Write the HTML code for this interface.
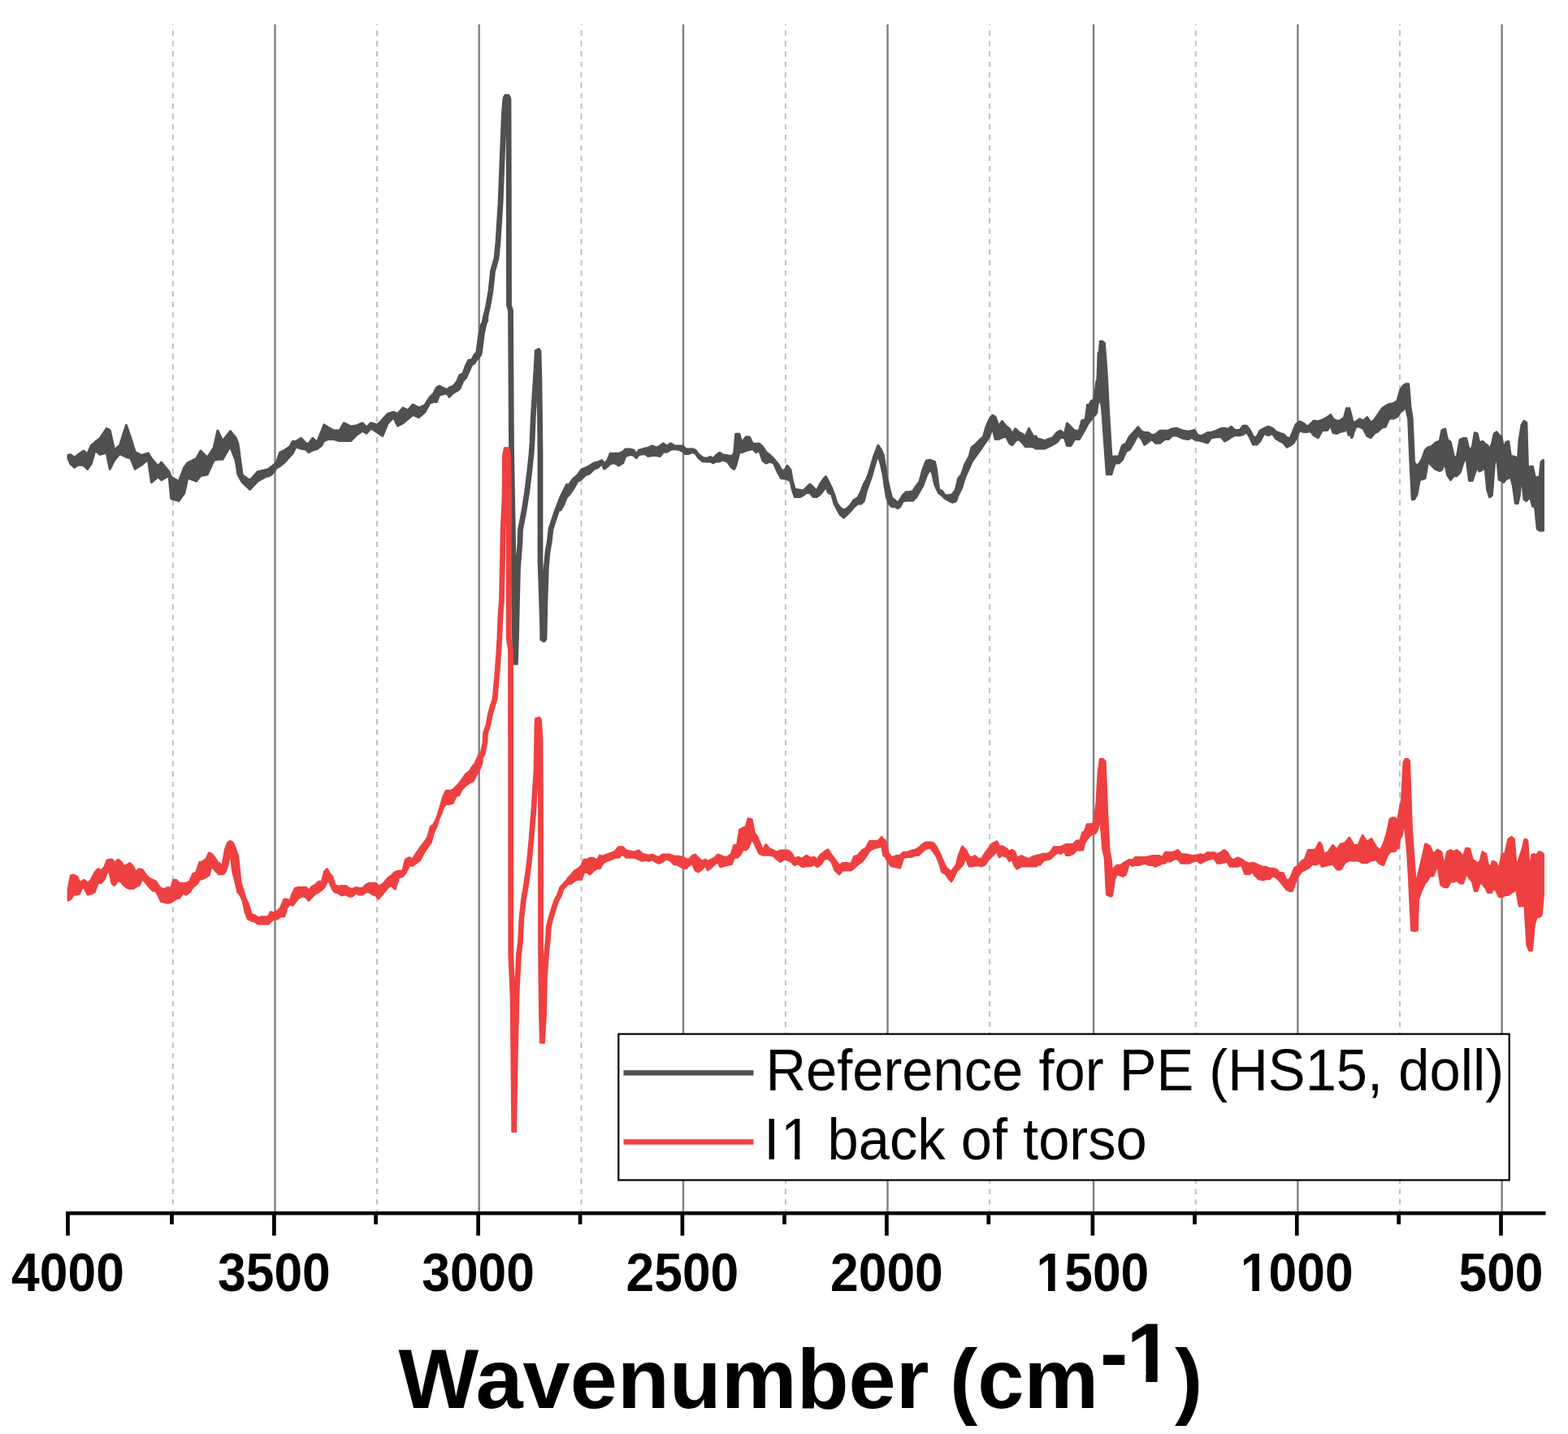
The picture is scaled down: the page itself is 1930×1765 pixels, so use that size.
<!DOCTYPE html><html><head><meta charset="utf-8"><style>html,body{margin:0;padding:0;background:#fff;}svg{display:block;}</style></head><body>
<svg width="1930" height="1765" viewBox="0 0 1930 1765">
<rect width="1930" height="1765" fill="#fff"/>
<line x1="212.8" y1="30.0" x2="212.8" y2="1491.0" stroke="#c0c0c0" stroke-width="2" stroke-dasharray="6.6 6.245" stroke-dashoffset="5.5"/>
<line x1="464.0" y1="30.0" x2="464.0" y2="1491.0" stroke="#c0c0c0" stroke-width="2" stroke-dasharray="6.6 6.245" stroke-dashoffset="5.5"/>
<line x1="715.5" y1="30.0" x2="715.5" y2="1491.0" stroke="#c0c0c0" stroke-width="2" stroke-dasharray="6.6 6.245" stroke-dashoffset="5.5"/>
<line x1="966.9" y1="30.0" x2="966.9" y2="1491.0" stroke="#c0c0c0" stroke-width="2" stroke-dasharray="6.6 6.245" stroke-dashoffset="5.5"/>
<line x1="1218.1" y1="30.0" x2="1218.1" y2="1491.0" stroke="#c0c0c0" stroke-width="2" stroke-dasharray="6.6 6.245" stroke-dashoffset="5.5"/>
<line x1="1471.8" y1="30.0" x2="1471.8" y2="1491.0" stroke="#c0c0c0" stroke-width="2" stroke-dasharray="6.6 6.245" stroke-dashoffset="5.5"/>
<line x1="1723.0" y1="30.0" x2="1723.0" y2="1491.0" stroke="#c0c0c0" stroke-width="2" stroke-dasharray="6.6 6.245" stroke-dashoffset="5.5"/>
<line x1="338.5" y1="30.0" x2="338.5" y2="1493.3" stroke="#808080" stroke-width="2.4"/>
<line x1="589.7" y1="30.0" x2="589.7" y2="1493.3" stroke="#808080" stroke-width="2.4"/>
<line x1="841.0" y1="30.0" x2="841.0" y2="1493.3" stroke="#808080" stroke-width="2.4"/>
<line x1="1092.5" y1="30.0" x2="1092.5" y2="1493.3" stroke="#808080" stroke-width="2.4"/>
<line x1="1346.0" y1="30.0" x2="1346.0" y2="1493.3" stroke="#808080" stroke-width="2.4"/>
<line x1="1597.4" y1="30.0" x2="1597.4" y2="1493.3" stroke="#808080" stroke-width="2.4"/>
<line x1="1848.6" y1="30.0" x2="1848.6" y2="1493.3" stroke="#808080" stroke-width="2.4"/>
<polygon points="84.0,560.3 86.7,559.8 91.5,563.2 96.2,559.8 102.9,555.1 107.6,559.1 112.3,548.4 117.0,544.3 123.1,539.6 131.2,527.5 135.2,529.5 140.6,553.7 147.4,548.4 155.4,523.4 160.8,538.9 166.2,556.4 174.3,560.5 182.4,557.8 186.4,564.5 194.5,574.0 198.6,569.2 208.0,580.7 210.7,587.4 220.1,592.8 226.8,575.3 230.9,569.9 241.7,564.5 247.0,555.1 255.1,563.2 263.2,551.1 267.9,530.2 274.0,543.0 283.4,530.8 290.2,538.9 292.9,545.7 298.2,584.7 307.7,591.5 317.1,580.7 329.2,578.0 330.0,577.8 334.1,574.7 340.4,569.5 344.5,557.1 350.7,554.0 356.9,549.8 360.1,543.6 364.2,543.6 370.4,539.4 376.6,545.7 379.7,546.7 384.9,539.4 390.1,544.6 395.3,532.2 398.9,522.9 403.6,526.0 410.8,530.1 418.1,530.1 423.3,520.8 431.6,524.9 438.8,523.9 446.1,520.8 451.2,526.0 456.4,520.8 464.7,522.9 470.9,516.6 477.2,509.4 484.4,507.3 489.6,509.4 495.8,502.1 502.0,505.2 508.2,498.0 515.5,502.1 522.7,499.0 529.1,489.1 533.8,484.3 537.2,477.5 540.6,475.2 545.4,477.5 550.2,479.6 552.9,477.5 557.6,475.5 562.4,470.1 565.8,461.9 569.9,459.9 573.3,450.3 576.7,443.5 580.7,442.9 584.1,436.7 586.9,434.0 589.6,413.6 592.3,400.0 595.0,396.0 597.1,385.8 599.8,381.0 599.8,394.6 597.1,399.4 595.0,413.0 592.3,434.1 589.6,440.2 586.9,442.2 584.1,447.0 580.7,449.0 576.7,457.9 573.3,465.3 569.9,468.7 565.8,478.3 562.4,481.0 557.6,483.7 552.9,488.4 550.2,483.7 545.4,485.1 540.6,486.4 537.2,494.6 533.8,494.6 529.1,495.9 522.7,507.4 515.5,513.6 508.2,510.5 502.0,515.7 495.8,520.9 489.6,524.0 484.4,513.6 477.2,520.9 470.9,536.4 464.7,532.3 456.4,527.1 451.2,533.3 446.1,530.2 438.8,535.4 431.6,542.6 423.3,542.6 418.1,542.6 410.8,540.6 403.6,540.6 398.9,542.6 395.3,548.8 390.1,552.5 384.9,554.0 379.7,556.6 376.6,553.0 370.4,552.0 364.2,549.9 360.1,558.2 356.9,561.3 350.7,568.5 344.5,573.7 340.4,575.8 334.1,584.1 330.0,586.2 329.2,585.4 317.1,592.2 307.7,602.3 298.2,593.5 292.9,584.1 290.2,566.6 283.4,549.1 274.0,565.2 267.9,565.2 263.2,566.6 255.1,584.1 247.0,585.4 241.7,592.2 230.9,588.1 226.8,607.0 220.1,616.4 210.7,613.7 208.0,585.4 198.6,590.8 194.5,586.8 186.4,593.5 182.4,565.2 174.3,572.0 166.2,577.3 160.8,563.9 155.4,562.5 147.4,558.5 140.6,566.6 135.2,577.3 131.2,557.1 123.1,559.2 117.0,554.4 112.3,570.6 107.6,577.3 102.9,572.6 96.2,572.0 91.5,575.3 86.7,570.6 84.0,564.1" fill="#505050" stroke="#505050" stroke-width="3" stroke-linejoin="round"/>
<polygon points="690.0,613.2 693.1,611.2 697.3,607.0 700.4,596.6 705.5,589.4 710.7,585.2 715.9,578.0 721.1,575.9 725.2,573.8 731.5,569.7 736.6,568.7 740.8,566.6 743.9,570.7 748.0,566.6 751.1,558.3 756.3,558.3 761.5,558.3 766.7,556.2 769.8,553.1 776.0,553.1 780.2,554.2 783.3,559.3 786.4,554.2 793.6,552.1 797.8,551.1 803.0,549.0 808.1,551.1 812.3,549.0 816.4,545.9 820.6,549.0 825.8,545.9 829.9,548.7 835.1,549.0 840.3,549.0 843.4,552.1 847.5,553.1 851.7,552.8 855.8,553.9 859.9,559.3 865.1,563.5 870.3,564.2 874.5,562.5 877.6,564.5 881.7,560.4 885.0,557.6 885.9,557.3 889.1,559.7 895.4,560.7 900.5,561.8 903.7,557.6 905.7,534.3 909.9,534.3 913.0,545.2 918.2,537.9 922.3,537.9 926.5,546.2 930.6,546.2 934.7,546.2 938.9,550.4 943.0,556.6 947.2,559.7 952.4,564.9 957.5,571.1 961.7,578.4 965.8,579.4 968.9,573.2 973.1,578.4 975.2,591.8 978.3,602.2 984.5,603.2 988.6,604.3 992.8,600.1 996.9,596.0 1001.1,600.1 1005.2,604.3 1009.4,596.0 1013.5,589.8 1016.6,586.6 1019.7,592.9 1023.9,601.2 1027.0,609.4 1030.1,619.8 1034.2,625.0 1038.4,628.1 1042.5,626.0 1046.7,621.9 1050.8,615.7 1056.0,612.6 1060.1,604.3 1063.2,596.0 1066.3,590.8 1069.5,582.5 1072.6,572.1 1075.7,561.8 1078.8,553.5 1080.9,548.3 1084.1,552.8 1087.3,560.1 1089.3,572.5 1091.4,587.0 1094.5,600.5 1097.6,612.9 1101.8,616.0 1104.9,619.1 1108.0,615.0 1111.1,609.8 1115.2,605.7 1119.4,605.7 1123.5,604.6 1127.7,598.4 1131.8,593.2 1136.0,577.7 1140.1,567.3 1144.2,566.3 1147.4,567.3 1150.5,568.4 1152.5,577.7 1155.6,602.6 1159.8,604.6 1162.9,609.5 1168.1,609.8 1172.2,608.8 1176.4,602.6 1179.5,589.1 1183.6,583.9 1187.8,571.5 1193.0,562.1 1196.1,550.7 1201.2,546.6 1206.4,541.4 1210.6,537.3 1213.7,525.9 1217.8,516.5 1221.5,511.4 1225.1,513.4 1229.2,524.8 1233.4,518.6 1238.5,524.8 1242.7,527.9 1245.8,534.2 1249.9,527.9 1254.1,532.1 1258.2,534.2 1262.4,537.3 1266.5,527.4 1271.7,537.3 1275.0,537.0 1276.9,540.4 1279.5,540.4 1286.3,542.6 1290.9,540.4 1295.4,539.2 1301.1,532.4 1305.6,530.2 1310.1,534.6 1313.5,521.1 1318.1,525.6 1322.6,530.2 1328.3,530.2 1331.7,517.7 1336.2,516.6 1338.5,498.5 1340.7,498.5 1343.0,493.9 1345.3,492.8 1347.5,489.4 1349.8,469.0 1350.9,467.9 1352.1,433.9 1353.2,433.9 1354.3,420.3 1356.6,420.3 1359.4,422.5 1362.3,461.1 1364.5,505.2 1366.8,543.8 1368.1,564.2 1370.2,561.9 1372.5,561.9 1377.0,561.9 1381.5,548.3 1386.0,546.0 1390.6,537.0 1395.1,532.4 1400.8,525.6 1405.3,531.3 1408.7,532.4 1413.2,532.4 1417.8,535.8 1422.3,534.7 1428.0,530.2 1433.6,530.2 1438.2,530.2 1442.7,527.9 1448.4,527.3 1456.3,530.2 1462.0,531.3 1467.6,530.2 1470.0,529.4 1474.1,535.6 1479.3,536.6 1486.6,532.5 1490.7,532.5 1496.9,530.4 1503.2,527.3 1507.3,527.3 1511.5,528.4 1515.6,525.2 1519.7,529.4 1526.0,529.4 1530.1,524.2 1534.2,524.2 1538.4,529.4 1542.5,537.7 1546.7,538.7 1550.8,530.4 1556.0,527.3 1561.2,525.2 1566.4,527.3 1570.5,531.5 1575.7,533.5 1579.8,534.6 1584.0,538.7 1588.1,539.8 1592.3,529.4 1595.4,522.1 1599.5,519.0 1604.7,521.1 1608.9,525.2 1613.0,522.1 1617.2,518.0 1622.3,519.0 1627.5,517.0 1633.7,513.8 1637.9,510.7 1641.0,515.9 1645.1,518.0 1649.3,518.0 1654.5,513.8 1657.6,502.5 1660.0,504.5 1660.7,502.5 1663.8,513.8 1664.5,518.1 1666.9,520.1 1669.1,519.2 1673.6,515.8 1678.1,518.1 1682.7,513.5 1687.2,520.3 1691.7,516.9 1696.3,510.1 1700.8,503.3 1705.3,499.9 1709.9,497.7 1715.5,496.5 1720.1,493.1 1723.5,480.7 1726.9,475.0 1730.3,472.7 1733.7,472.7 1735.9,499.9 1738.2,515.8 1740.5,569.0 1743.9,573.6 1747.3,570.2 1750.7,564.5 1754.1,554.3 1757.5,550.9 1762.0,549.8 1766.5,545.2 1772.2,543.0 1774.8,529.9 1775.6,529.4 1778.7,528.0 1781.6,541.4 1785.4,544.3 1789.3,561.7 1793.1,563.6 1797.0,541.4 1800.8,539.5 1804.7,539.5 1808.5,554.9 1812.4,550.1 1815.3,532.8 1818.1,533.7 1821.0,545.3 1824.9,543.4 1827.8,546.3 1830.7,548.2 1833.5,553.0 1836.4,546.3 1839.3,533.7 1842.2,531.8 1845.1,535.7 1848.0,537.6 1850.9,553.0 1853.8,544.3 1856.7,543.4 1859.5,561.7 1862.4,561.7 1865.3,562.6 1868.2,568.4 1870.1,541.4 1873.0,523.1 1875.9,518.3 1878.8,520.3 1880.7,581.9 1883.6,574.2 1886.5,574.2 1889.4,587.7 1892.3,587.7 1895.2,586.7 1897.1,568.4 1899.5,566.5 1899.5,653.1 1897.1,653.1 1895.2,653.1 1892.3,651.1 1889.4,623.2 1886.5,623.2 1883.6,611.7 1880.7,614.5 1878.8,616.5 1875.9,614.5 1873.0,582.8 1870.1,610.7 1868.2,619.4 1865.3,619.4 1862.4,598.2 1859.5,586.6 1856.7,588.5 1853.8,589.5 1850.9,593.4 1848.0,591.4 1845.1,590.5 1842.2,556.8 1839.3,572.2 1836.4,609.7 1833.5,611.7 1830.7,603.0 1827.8,573.1 1824.9,578.0 1821.0,579.9 1818.1,575.1 1815.3,581.8 1812.4,591.4 1808.5,591.4 1804.7,561.6 1800.8,570.2 1797.0,581.8 1793.1,585.7 1789.3,585.7 1785.4,590.5 1781.6,584.7 1778.7,571.2 1775.6,575.0 1774.8,578.0 1772.2,579.5 1766.5,577.2 1762.0,572.7 1757.5,568.2 1754.1,588.6 1750.7,589.7 1747.3,590.8 1743.9,609.0 1740.5,614.6 1738.2,614.6 1735.9,568.2 1733.7,516.1 1730.3,500.2 1726.9,504.7 1723.5,507.0 1720.1,512.7 1715.5,514.9 1709.9,514.9 1705.3,525.1 1700.8,526.3 1696.3,530.8 1691.7,533.1 1687.2,538.7 1682.7,536.5 1678.1,527.4 1673.6,525.1 1669.1,525.1 1666.9,529.5 1664.5,537.6 1663.8,538.8 1660.7,531.5 1660.0,535.3 1657.6,527.4 1654.5,530.5 1649.3,531.5 1645.1,533.6 1641.0,532.6 1637.9,523.2 1633.7,529.5 1627.5,529.5 1622.3,538.8 1617.2,535.7 1613.0,530.5 1608.9,531.5 1604.7,531.5 1599.5,529.5 1595.4,539.8 1592.3,545.0 1588.1,548.1 1584.0,550.2 1579.8,545.0 1575.7,542.9 1570.5,539.8 1566.4,533.6 1561.2,535.7 1556.0,533.6 1550.8,542.9 1546.7,547.1 1542.5,547.1 1538.4,537.8 1534.2,531.5 1530.1,534.6 1526.0,535.7 1519.7,535.7 1515.6,537.8 1511.5,540.9 1507.3,542.9 1503.2,537.8 1496.9,537.8 1490.7,538.8 1486.6,545.0 1479.3,542.9 1474.1,541.9 1470.0,540.9 1467.6,538.4 1462.0,540.6 1456.3,539.5 1448.4,536.1 1442.7,536.1 1438.2,540.6 1433.6,540.6 1428.0,545.2 1422.3,545.2 1417.8,540.6 1413.2,544.0 1408.7,547.4 1405.3,540.6 1400.8,535.0 1395.1,545.2 1390.6,553.1 1386.0,555.4 1381.5,565.6 1377.0,570.1 1372.5,570.1 1370.2,575.8 1368.1,583.7 1366.8,583.7 1364.5,583.7 1362.3,583.7 1359.4,542.9 1356.6,503.2 1354.3,488.5 1353.2,489.7 1352.1,495.3 1350.9,497.6 1349.8,507.8 1347.5,511.2 1345.3,512.3 1343.0,516.8 1340.7,519.1 1338.5,522.5 1336.2,527.0 1331.7,535.0 1328.3,540.6 1322.6,540.6 1318.1,548.6 1313.5,548.6 1310.1,538.4 1305.6,538.4 1301.1,544.0 1295.4,547.4 1290.9,549.7 1286.3,552.0 1279.5,552.0 1276.9,551.8 1275.0,552.0 1271.7,549.8 1266.5,549.8 1262.4,549.8 1258.2,544.6 1254.1,540.5 1249.9,542.5 1245.8,547.7 1242.7,545.6 1238.5,537.3 1233.4,538.4 1229.2,540.5 1225.1,540.5 1221.5,525.9 1217.8,537.3 1213.7,543.6 1210.6,547.7 1206.4,553.9 1201.2,561.2 1196.1,568.4 1193.0,575.7 1187.8,587.1 1183.6,600.6 1179.5,608.8 1176.4,617.1 1172.2,618.2 1168.1,616.1 1162.9,613.3 1159.8,609.9 1155.6,606.8 1152.5,600.6 1150.5,595.4 1147.4,581.9 1144.2,577.8 1140.1,586.0 1136.0,597.4 1131.8,604.7 1127.7,612.0 1123.5,616.1 1119.4,616.1 1115.2,616.1 1111.1,617.1 1108.0,623.4 1104.9,625.4 1101.8,623.4 1097.6,623.4 1094.5,620.2 1091.4,612.0 1089.3,599.5 1087.3,585.0 1084.1,570.5 1080.9,560.8 1078.8,565.0 1075.7,575.3 1072.6,586.7 1069.5,595.0 1066.3,604.3 1063.2,616.8 1060.1,619.9 1056.0,619.9 1050.8,624.0 1046.7,629.2 1042.5,633.4 1038.4,637.0 1034.2,633.4 1030.1,626.1 1027.0,619.9 1023.9,608.5 1019.7,606.4 1016.6,599.2 1013.5,603.3 1009.4,608.5 1005.2,611.6 1001.1,611.6 996.9,606.4 992.8,606.4 988.6,609.5 984.5,611.6 978.3,611.6 975.2,602.3 973.1,591.9 968.9,589.8 965.8,588.8 961.7,588.8 957.5,581.5 952.4,570.1 947.2,568.1 943.0,570.1 938.9,567.0 934.7,554.6 930.6,556.7 926.5,552.5 922.3,553.6 918.2,554.6 913.0,556.7 909.9,556.7 905.7,573.2 903.7,577.4 900.5,575.3 895.4,568.1 889.1,566.0 885.9,567.7 885.0,568.1 881.7,567.7 877.6,569.8 874.5,567.7 870.3,568.0 865.1,567.7 859.9,563.6 855.8,557.7 851.7,556.6 847.5,558.4 843.4,558.4 840.3,555.3 835.1,553.2 829.9,552.5 825.8,553.2 820.6,556.3 816.4,556.3 812.3,561.5 808.1,560.5 803.0,560.5 797.8,561.5 793.6,558.4 786.4,559.4 783.3,563.6 780.2,560.5 776.0,559.4 769.8,561.5 766.7,569.8 761.5,572.9 756.3,569.8 751.1,570.8 748.0,573.9 743.9,577.0 740.8,570.8 736.6,575.0 731.5,577.0 725.2,583.2 721.1,584.3 715.9,589.5 710.7,592.6 705.5,601.9 700.4,609.2 697.3,612.3 693.1,622.6 690.0,627.8" fill="#505050" stroke="#505050" stroke-width="3" stroke-linejoin="round"/>
<polyline points="589.6,438.0 590.5,425.0 592.3,412.0 595.0,403.0 597.0,392.0 600.5,378.0 604.0,358.0 606.5,334.0 611.0,318.0 613.0,298.0 616.0,251.0 618.5,187.0 620.5,138.0 622.0,121.0 624.0,117.5 626.0,122.0 626.2,180.0 626.5,376.0 628.5,382.0 629.5,552.0 631.5,664.0 632.5,716.0 633.5,785.0 634.3,818.5 635.5,785.0 636.5,740.0 637.5,700.0 640.0,668.0 640.5,652.0 645.0,629.0 648.6,606.0 651.5,582.5 654.0,559.0 655.0,545.0 656.3,513.0 660.0,455.0 661.3,431.0 663.0,432.0 664.0,470.0 665.0,557.0 665.0,691.0 666.0,720.0 667.5,767.0 667.8,788.0 670.0,787.0 671.0,740.0 672.4,698.0 674.0,680.0 676.5,665.0 678.0,651.0 680.0,645.0 685.0,630.0 692.0,612.0 700.0,596.0" fill="none" stroke="#505050" stroke-width="6.8" stroke-linejoin="bevel"/>
<polygon points="84.1,1094.6 87.3,1078.0 90.4,1077.0 94.5,1079.0 97.6,1085.2 100.7,1085.2 103.8,1083.2 108.0,1087.3 112.1,1083.2 116.3,1074.9 120.4,1069.7 124.6,1071.8 128.7,1067.6 131.8,1059.3 134.9,1058.3 138.0,1058.3 141.1,1062.5 145.3,1058.3 149.4,1061.4 152.5,1066.6 156.7,1064.5 159.8,1062.5 163.9,1066.6 167.0,1073.8 171.2,1069.7 175.3,1070.7 179.5,1077.0 183.6,1081.1 187.8,1083.2 191.9,1085.2 195.0,1090.4 198.1,1093.5 202.3,1094.6 206.4,1092.5 210.6,1093.5 213.7,1083.2 216.8,1083.2 220.9,1087.3 225.1,1087.3 229.2,1087.3 233.4,1085.2 237.5,1075.9 241.7,1073.8 245.8,1061.4 249.9,1060.4 254.1,1057.3 257.2,1050.0 260.3,1051.1 264.5,1056.2 268.6,1062.5 270.0,1062.5 272.7,1065.6 274.1,1064.5 277.3,1045.9 280.4,1037.6 283.5,1035.5 286.6,1037.6 289.7,1044.8 292.8,1054.2 295.9,1085.2 299.0,1095.6 302.1,1106.0 305.2,1112.2 309.4,1125.7 313.5,1126.7 317.7,1129.8 321.8,1128.8 326.0,1128.8 330.1,1128.8 333.2,1122.6 337.4,1123.6 341.5,1121.5 345.6,1117.4 349.8,1107.0 352.9,1107.0 357.0,1108.8 360.2,1099.8 363.3,1093.5 367.4,1092.5 372.6,1092.5 376.7,1092.5 379.8,1096.6 384.0,1091.5 388.1,1089.4 392.3,1085.2 396.4,1085.2 399.5,1072.8 402.6,1069.7 405.8,1075.9 408.9,1079.0 412.0,1089.4 416.1,1091.5 420.3,1090.4 425.4,1090.4 429.6,1093.5 433.7,1094.6 437.9,1092.5 442.0,1093.5 446.2,1093.5 450.3,1089.4 454.5,1087.3 458.6,1087.3 462.7,1087.3 465.9,1091.3 471.9,1087.8 477.8,1080.6 481.4,1078.3 486.2,1073.5 490.9,1072.3 495.7,1072.3 499.3,1058.0 504.0,1055.7 507.6,1058.0 512.3,1050.9 517.1,1043.8 521.9,1037.8 526.6,1030.7 530.2,1017.6 533.8,1015.2 537.3,1008.1 539.7,1000.9 543.3,989.0 545.7,980.7 549.2,973.6 554.0,973.6 557.5,972.4 561.1,968.8 564.7,965.2 568.3,960.5 573.0,953.3 577.8,949.8 582.5,942.6 586.1,939.1 589.7,928.4 593.2,927.2 593.2,938.3 589.7,947.8 586.1,953.7 582.5,960.9 577.8,963.2 573.0,966.8 568.3,971.6 564.7,978.7 561.1,979.9 557.5,988.2 554.0,989.4 549.2,989.4 545.7,993.0 543.3,1000.1 539.7,1008.4 537.3,1016.8 533.8,1023.9 530.2,1037.0 526.6,1041.8 521.9,1048.9 517.1,1058.4 512.3,1062.0 507.6,1065.5 504.0,1064.4 499.3,1073.9 495.7,1078.6 490.9,1079.8 486.2,1094.1 481.4,1089.3 477.8,1091.7 471.9,1098.9 465.9,1106.0 462.7,1101.9 458.6,1100.9 454.5,1097.8 450.3,1097.8 446.2,1100.9 442.0,1100.9 437.9,1098.8 433.7,1102.9 429.6,1102.9 425.4,1100.9 420.3,1101.9 416.1,1098.8 412.0,1097.8 408.9,1093.6 405.8,1085.3 402.6,1084.3 399.5,1091.5 396.4,1094.6 392.3,1097.8 388.1,1099.8 384.0,1104.0 379.8,1108.1 376.7,1104.0 372.6,1102.9 367.4,1105.0 363.3,1110.2 360.2,1114.3 357.0,1112.6 352.9,1117.4 349.8,1127.8 345.6,1127.8 341.5,1130.9 337.4,1130.9 333.2,1134.0 330.1,1137.1 326.0,1137.1 321.8,1137.1 317.7,1137.1 313.5,1134.0 309.4,1133.0 305.2,1130.9 302.1,1122.6 299.0,1108.1 295.9,1101.9 292.8,1097.8 289.7,1084.3 286.6,1072.9 283.5,1044.9 280.4,1063.6 277.3,1072.9 274.1,1076.0 272.7,1075.0 270.0,1076.0 268.6,1075.0 264.5,1070.8 260.3,1065.6 257.2,1077.0 254.1,1079.1 249.9,1081.2 245.8,1082.2 241.7,1088.4 237.5,1091.5 233.4,1097.8 229.2,1100.9 225.1,1098.8 220.9,1105.0 216.8,1106.0 213.7,1108.1 210.6,1110.2 206.4,1111.2 202.3,1110.2 198.1,1109.2 195.0,1101.9 191.9,1096.7 187.8,1095.7 183.6,1091.5 179.5,1086.4 175.3,1081.2 171.2,1089.5 167.0,1091.5 163.9,1093.6 159.8,1093.6 156.7,1092.6 152.5,1089.5 149.4,1085.3 145.3,1083.2 141.1,1089.5 138.0,1087.4 134.9,1072.9 131.8,1072.9 128.7,1081.2 124.6,1086.4 120.4,1086.4 116.3,1097.8 112.1,1099.8 108.0,1100.9 103.8,1092.6 100.7,1092.6 97.6,1099.8 94.5,1100.9 90.4,1100.9 87.3,1106.0 84.1,1108.1" fill="#ef4041" stroke="#ef4041" stroke-width="3" stroke-linejoin="round"/>
<polygon points="699.1,1081.1 703.3,1077.0 707.4,1071.8 711.6,1069.7 715.7,1065.6 718.8,1058.3 723.0,1058.3 726.1,1056.2 730.2,1056.2 734.4,1059.3 738.5,1053.1 741.6,1054.2 746.8,1052.1 753.0,1050.0 757.2,1047.9 761.3,1042.8 766.5,1042.8 770.6,1046.9 775.8,1047.9 781.0,1049.0 786.2,1046.9 790.3,1051.1 794.5,1052.1 798.6,1053.1 802.8,1052.1 806.9,1054.2 811.1,1055.2 815.2,1052.1 819.4,1052.1 824.5,1052.1 829.7,1054.2 834.9,1054.2 840.1,1055.2 844.2,1057.3 848.4,1058.3 852.5,1053.1 855.6,1052.1 859.8,1056.2 863.9,1060.4 868.1,1058.3 871.2,1060.4 875.3,1058.3 879.5,1056.2 883.6,1052.1 886.7,1053.1 890.9,1055.2 895.2,1055.2 900.4,1051.1 903.5,1040.7 907.6,1039.7 910.7,1021.1 914.9,1019.0 918.0,1017.9 921.1,1007.6 925.2,1008.6 928.3,1025.2 931.5,1029.3 934.6,1036.6 938.7,1047.0 942.8,1039.7 947.0,1044.9 952.2,1047.0 956.3,1049.0 960.5,1047.0 964.6,1047.0 969.8,1047.0 973.9,1050.1 978.1,1057.3 982.2,1055.2 987.4,1057.3 992.6,1053.2 997.8,1056.3 1001.9,1055.2 1006.1,1058.4 1010.2,1052.1 1014.4,1049.0 1019.0,1045.9 1023.7,1053.2 1027.8,1058.4 1033.0,1065.6 1037.2,1062.5 1042.3,1062.5 1047.5,1063.5 1051.7,1054.2 1055.8,1053.2 1061.0,1047.0 1066.2,1043.8 1070.3,1035.6 1075.5,1035.6 1080.7,1035.6 1085.3,1030.4 1087.9,1035.6 1089.1,1033.8 1093.3,1050.4 1097.4,1055.6 1103.7,1053.5 1107.8,1053.5 1111.9,1049.3 1116.1,1049.3 1121.3,1047.3 1126.5,1046.2 1130.6,1044.2 1134.7,1040.0 1139.9,1036.9 1145.1,1036.9 1149.2,1037.9 1153.4,1044.2 1156.5,1050.4 1159.6,1057.6 1163.8,1067.0 1167.9,1071.1 1171.0,1073.2 1174.1,1069.0 1177.2,1064.9 1180.3,1052.5 1184.5,1042.1 1188.6,1046.2 1192.8,1054.5 1196.9,1055.6 1200.0,1053.5 1204.2,1057.6 1208.3,1057.6 1212.5,1050.4 1216.6,1045.2 1220.8,1039.0 1227.0,1035.9 1230.1,1042.1 1234.2,1042.1 1239.4,1045.2 1242.5,1048.3 1245.6,1046.2 1248.7,1048.3 1251.8,1056.6 1257.0,1053.5 1261.2,1055.6 1266.3,1057.6 1271.5,1054.5 1275.7,1053.5 1279.8,1052.5 1280.0,1052.4 1284.3,1051.3 1288.6,1051.3 1292.9,1049.1 1297.2,1042.7 1301.5,1042.7 1305.8,1042.7 1310.1,1040.5 1312.3,1039.4 1316.6,1039.4 1320.9,1039.4 1325.2,1035.1 1329.5,1035.1 1332.8,1024.4 1334.9,1024.4 1338.1,1014.7 1342.4,1014.7 1345.7,1013.6 1347.8,1003.9 1350.0,987.8 1352.1,950.1 1354.3,934.5 1357.5,934.5 1360.2,937.2 1362.4,994.2 1365.1,1047.0 1367.2,1057.7 1368.8,1076.0 1371.5,1068.5 1374.8,1065.3 1379.1,1065.3 1382.3,1063.1 1385.5,1061.0 1389.8,1058.6 1394.1,1058.8 1397.4,1055.6 1402.7,1055.6 1409.2,1055.6 1414.6,1054.5 1418.9,1053.4 1422.1,1053.4 1426.4,1053.4 1430.7,1055.6 1434.1,1049.7 1435.0,1049.1 1440.4,1049.7 1445.5,1048.6 1449.7,1046.5 1453.8,1051.7 1459.0,1051.7 1464.2,1052.8 1468.3,1053.8 1473.5,1052.8 1477.7,1051.7 1481.8,1052.8 1486.0,1049.7 1490.1,1049.7 1494.2,1049.7 1498.4,1051.7 1502.5,1049.7 1506.7,1046.5 1510.8,1049.7 1513.9,1055.9 1518.1,1059.0 1523.3,1055.9 1528.4,1057.9 1532.6,1061.1 1537.8,1063.1 1541.9,1062.1 1545.0,1063.1 1549.2,1065.2 1554.4,1067.3 1558.5,1067.3 1562.6,1069.3 1566.8,1069.3 1570.9,1070.4 1575.1,1074.5 1579.2,1074.5 1583.4,1083.8 1587.5,1082.8 1590.6,1075.6 1593.7,1068.3 1597.9,1066.2 1602.0,1060.0 1606.2,1057.9 1610.3,1046.5 1615.5,1046.5 1619.6,1045.5 1623.8,1037.2 1625.4,1037.9 1626.9,1041.4 1629.5,1051.5 1635.0,1048.8 1640.4,1040.6 1645.8,1046.1 1649.9,1039.3 1655.3,1037.9 1660.8,1031.1 1666.2,1040.6 1671.7,1040.6 1677.1,1028.4 1682.5,1036.6 1688.0,1032.5 1693.4,1042.0 1698.8,1047.4 1702.9,1039.3 1707.0,1027.0 1711.1,1008.0 1714.0,1006.7 1717.0,1006.7 1719.0,1013.0 1721.0,1007.0 1723.0,996.3 1725.5,984.6 1728.0,938.4 1730.0,934.5 1732.5,934.5 1734.5,936.4 1737.5,1021.0 1742.0,1083.5 1744.3,1083.0 1745.5,1078.0 1749.5,1061.4 1754.5,1039.0 1755.9,1039.3 1760.0,1042.0 1764.1,1051.5 1769.5,1046.1 1773.6,1048.8 1773.9,1048.6 1777.7,1066.8 1781.6,1048.6 1785.4,1046.6 1789.3,1048.6 1793.1,1046.6 1797.0,1049.5 1800.8,1055.3 1804.7,1044.2 1808.5,1044.7 1812.4,1058.2 1815.3,1060.1 1818.1,1063.0 1822.0,1060.1 1824.9,1048.6 1828.7,1051.4 1831.6,1064.9 1835.5,1066.8 1837.4,1060.1 1841.2,1062.0 1845.1,1070.7 1849.0,1051.4 1852.8,1050.5 1856.7,1033.1 1860.5,1030.3 1863.4,1033.1 1866.3,1068.8 1870.1,1057.2 1874.0,1044.7 1876.9,1033.1 1879.8,1034.1 1882.7,1076.5 1885.5,1052.4 1888.4,1051.4 1891.3,1053.4 1894.2,1048.6 1897.1,1049.5 1899.5,1051.4 1899.5,1100.5 1897.1,1126.5 1894.2,1128.4 1891.3,1128.4 1888.4,1138.0 1885.5,1169.8 1882.7,1169.8 1879.8,1163.1 1876.9,1113.9 1874.0,1114.9 1870.1,1114.9 1866.3,1093.7 1863.4,1096.6 1860.5,1098.5 1856.7,1101.4 1852.8,1101.4 1849.0,1103.4 1845.1,1103.4 1841.2,1094.7 1837.4,1094.7 1835.5,1098.5 1831.6,1098.5 1828.7,1092.8 1824.9,1088.0 1822.0,1085.1 1818.1,1096.6 1815.3,1096.6 1812.4,1085.1 1808.5,1080.2 1804.7,1074.5 1800.8,1087.0 1797.0,1087.0 1793.1,1083.1 1789.3,1085.1 1785.4,1085.1 1781.6,1091.8 1777.7,1091.8 1773.9,1088.9 1773.6,1088.9 1769.5,1063.1 1764.1,1078.1 1760.0,1078.1 1755.9,1084.9 1754.5,1085.5 1749.5,1096.0 1745.5,1107.6 1744.3,1145.0 1742.0,1145.4 1737.5,1145.0 1734.5,1082.9 1732.5,1047.7 1730.0,1023.0 1728.0,1007.3 1725.5,1028.0 1723.0,1032.0 1721.0,1044.0 1719.0,1044.0 1717.0,1047.7 1714.0,1047.7 1711.1,1048.1 1707.0,1053.6 1702.9,1064.5 1698.8,1063.1 1693.4,1057.7 1688.0,1059.0 1682.5,1061.7 1677.1,1061.7 1671.7,1059.0 1666.2,1059.0 1660.8,1059.0 1655.3,1061.7 1649.9,1069.9 1645.8,1069.9 1640.4,1063.1 1635.0,1064.5 1629.5,1065.8 1626.9,1066.3 1625.4,1061.7 1623.8,1062.2 1619.6,1064.2 1615.5,1063.2 1610.3,1068.4 1606.2,1070.5 1602.0,1072.5 1597.9,1077.7 1593.7,1087.0 1590.6,1096.4 1587.5,1096.4 1583.4,1094.3 1579.2,1089.1 1575.1,1083.9 1570.9,1079.8 1566.8,1077.7 1562.6,1081.8 1558.5,1081.8 1554.4,1082.9 1549.2,1081.8 1545.0,1077.7 1541.9,1072.5 1537.8,1075.6 1532.6,1075.6 1528.4,1064.2 1523.3,1066.3 1518.1,1066.3 1513.9,1066.3 1510.8,1060.1 1506.7,1061.1 1502.5,1062.2 1498.4,1062.2 1494.2,1055.9 1490.1,1057.0 1486.0,1058.0 1481.8,1060.1 1477.7,1062.2 1473.5,1059.1 1468.3,1060.1 1464.2,1062.2 1459.0,1062.2 1453.8,1062.2 1449.7,1057.0 1445.5,1057.0 1440.4,1060.1 1435.0,1060.0 1434.1,1062.2 1430.7,1062.2 1426.4,1064.4 1422.1,1066.5 1418.9,1064.4 1414.6,1064.4 1409.2,1062.2 1402.7,1064.4 1397.4,1064.4 1394.1,1065.4 1389.8,1062.4 1385.5,1076.2 1382.3,1078.4 1379.1,1077.3 1374.8,1075.1 1371.5,1082.7 1368.8,1102.0 1367.2,1103.1 1365.1,1102.0 1362.4,1101.0 1360.2,1056.8 1357.5,1043.9 1354.3,1001.9 1352.1,1015.9 1350.0,1022.4 1347.8,1025.6 1345.7,1025.6 1342.4,1027.7 1338.1,1032.1 1334.9,1037.4 1332.8,1046.1 1329.5,1046.1 1325.2,1046.1 1320.9,1050.4 1316.6,1052.5 1312.3,1052.5 1310.1,1047.1 1305.8,1050.4 1301.5,1049.3 1297.2,1052.5 1292.9,1056.8 1288.6,1057.9 1284.3,1059.0 1280.0,1064.4 1279.8,1060.8 1275.7,1066.0 1271.5,1066.0 1266.3,1066.0 1261.2,1066.0 1257.0,1066.0 1251.8,1069.1 1248.7,1065.0 1245.6,1056.7 1242.5,1059.8 1239.4,1054.6 1234.2,1052.5 1230.1,1054.6 1227.0,1047.3 1220.8,1053.6 1216.6,1057.7 1212.5,1063.9 1208.3,1066.0 1204.2,1065.0 1200.0,1065.0 1196.9,1066.0 1192.8,1066.0 1188.6,1054.6 1184.5,1065.0 1180.3,1069.1 1177.2,1072.2 1174.1,1079.5 1171.0,1084.6 1167.9,1081.5 1163.8,1075.3 1159.6,1073.2 1156.5,1062.9 1153.4,1054.6 1149.2,1048.4 1145.1,1043.2 1139.9,1044.2 1134.7,1048.4 1130.6,1052.5 1126.5,1052.5 1121.3,1054.6 1116.1,1054.6 1111.9,1055.6 1107.8,1068.1 1103.7,1067.0 1097.4,1066.0 1093.3,1060.8 1089.1,1052.5 1087.9,1053.2 1085.3,1040.8 1080.7,1042.9 1075.5,1043.9 1070.3,1047.0 1066.2,1053.2 1061.0,1060.5 1055.8,1063.6 1051.7,1067.8 1047.5,1070.9 1042.3,1070.9 1037.2,1070.9 1033.0,1076.0 1027.8,1070.9 1023.7,1060.5 1019.0,1056.4 1014.4,1057.4 1010.2,1063.6 1006.1,1066.7 1001.9,1063.6 997.8,1065.7 992.6,1065.7 987.4,1066.7 982.2,1062.6 978.1,1064.6 973.9,1060.5 969.8,1058.4 964.6,1057.4 960.5,1060.5 956.3,1057.4 952.2,1053.2 947.0,1052.2 942.8,1052.2 938.7,1052.2 934.6,1050.1 931.5,1043.9 928.3,1036.7 925.2,1032.5 921.1,1042.9 918.0,1046.0 914.9,1045.0 910.7,1052.2 907.6,1055.3 903.5,1055.3 900.4,1063.6 895.2,1064.6 890.9,1065.6 886.7,1066.7 883.6,1060.5 879.5,1063.6 875.3,1067.7 871.2,1070.8 868.1,1064.6 863.9,1069.8 859.8,1072.9 855.6,1070.8 852.5,1062.5 848.4,1064.6 844.2,1068.7 840.1,1067.7 834.9,1064.6 829.7,1063.6 824.5,1058.4 819.4,1057.3 815.2,1060.5 811.1,1062.5 806.9,1060.5 802.8,1057.3 798.6,1059.4 794.5,1058.4 790.3,1059.4 786.2,1057.3 781.0,1055.3 775.8,1055.3 770.6,1055.3 766.5,1051.1 761.3,1055.3 757.2,1055.3 753.0,1057.3 746.8,1059.4 741.6,1062.5 738.5,1068.7 734.4,1068.7 730.2,1071.8 726.1,1076.0 723.0,1073.9 718.8,1072.9 715.7,1082.2 711.6,1082.2 707.4,1083.2 703.3,1087.4 699.1,1087.4" fill="#ef4041" stroke="#ef4041" stroke-width="3" stroke-linejoin="round"/>
<polyline points="581.0,948.0 586.0,943.0 588.0,937.0 594.0,928.0 597.0,914.0 597.5,902.5 601.0,892.0 603.5,879.0 606.7,867.7 609.3,859.5 610.5,844.4 611.6,832.8 612.5,821.2 613.6,806.0 614.8,786.4 616.2,754.0 617.4,740.0 618.3,700.0 619.2,650.0 621.0,615.0 621.5,560.0 623.4,551.0 625.5,558.0 626.3,600.0 626.3,786.0 628.5,800.0 628.8,1175.0 631.0,1225.0 632.0,1316.0 632.7,1394.0 634.0,1316.0 636.0,1225.0 638.5,1175.0 640.5,1160.0 642.0,1130.0 644.5,1107.0 648.0,1086.0 651.5,1060.0 654.0,1033.0 657.0,995.0 660.0,948.0 661.0,890.0 661.7,884.0 663.5,886.0 665.0,910.0 665.5,990.0 665.5,1167.0 666.5,1250.0 667.4,1284.5 669.5,1250.0 670.5,1203.0 672.5,1175.0 674.5,1155.0 675.5,1140.0 678.0,1130.0 681.0,1120.0 683.0,1114.0 685.0,1108.0 688.0,1103.0 691.5,1093.0 700.0,1084.0 709.0,1075.0 715.0,1070.0" fill="none" stroke="#ef4041" stroke-width="6.8" stroke-linejoin="bevel"/>
<line x1="81.2" y1="1493.3" x2="1902.5" y2="1493.3" stroke="#000" stroke-width="4.6"/>
<line x1="83.5" y1="1491.0" x2="83.5" y2="1520.8" stroke="#000" stroke-width="4.7"/>
<line x1="337.4" y1="1491.0" x2="337.4" y2="1520.8" stroke="#000" stroke-width="4.7"/>
<line x1="588.6" y1="1491.0" x2="588.6" y2="1520.8" stroke="#000" stroke-width="4.7"/>
<line x1="839.9" y1="1491.0" x2="839.9" y2="1520.8" stroke="#000" stroke-width="4.7"/>
<line x1="1091.4" y1="1491.0" x2="1091.4" y2="1520.8" stroke="#000" stroke-width="4.7"/>
<line x1="1344.9" y1="1491.0" x2="1344.9" y2="1520.8" stroke="#000" stroke-width="4.7"/>
<line x1="1596.3" y1="1491.0" x2="1596.3" y2="1520.8" stroke="#000" stroke-width="4.7"/>
<line x1="1847.5" y1="1491.0" x2="1847.5" y2="1520.8" stroke="#000" stroke-width="4.7"/>
<line x1="211.5" y1="1491.0" x2="211.5" y2="1507" stroke="#000" stroke-width="4.7"/>
<line x1="462.6" y1="1491.0" x2="462.6" y2="1507" stroke="#000" stroke-width="4.7"/>
<line x1="714.1" y1="1491.0" x2="714.1" y2="1507" stroke="#000" stroke-width="4.7"/>
<line x1="965.5" y1="1491.0" x2="965.5" y2="1507" stroke="#000" stroke-width="4.7"/>
<line x1="1216.8" y1="1491.0" x2="1216.8" y2="1507" stroke="#000" stroke-width="4.7"/>
<line x1="1470.5" y1="1491.0" x2="1470.5" y2="1507" stroke="#000" stroke-width="4.7"/>
<line x1="1721.7" y1="1491.0" x2="1721.7" y2="1507" stroke="#000" stroke-width="4.7"/>
<text transform="translate(83.5,1589) scale(0.946,1)" font-family="Liberation Sans, Arial, sans-serif" font-weight="bold" font-size="66" text-anchor="middle">4000</text>
<text transform="translate(337.4,1589) scale(0.946,1)" font-family="Liberation Sans, Arial, sans-serif" font-weight="bold" font-size="66" text-anchor="middle">3500</text>
<text transform="translate(588.6,1589) scale(0.946,1)" font-family="Liberation Sans, Arial, sans-serif" font-weight="bold" font-size="66" text-anchor="middle">3000</text>
<text transform="translate(839.9,1589) scale(0.946,1)" font-family="Liberation Sans, Arial, sans-serif" font-weight="bold" font-size="66" text-anchor="middle">2500</text>
<text transform="translate(1091.4,1589) scale(0.946,1)" font-family="Liberation Sans, Arial, sans-serif" font-weight="bold" font-size="66" text-anchor="middle">2000</text>
<defs><clipPath id="tl1500"><rect x="1264.9" y="1530" width="160" height="51.9"/><rect x="1290.0" y="1530" width="8.6" height="70"/><rect x="1310.0" y="1530" width="120" height="70"/></clipPath></defs>
<g clip-path="url(#tl1500)"><text transform="translate(1344.9,1589) scale(0.946,1)" font-family="Liberation Sans, Arial, sans-serif" font-weight="bold" font-size="66" text-anchor="middle">1500</text></g>
<defs><clipPath id="tl1000"><rect x="1516.3" y="1530" width="160" height="51.9"/><rect x="1541.4" y="1530" width="8.6" height="70"/><rect x="1561.4" y="1530" width="120" height="70"/></clipPath></defs>
<g clip-path="url(#tl1000)"><text transform="translate(1596.3,1589) scale(0.946,1)" font-family="Liberation Sans, Arial, sans-serif" font-weight="bold" font-size="66" text-anchor="middle">1000</text></g>
<text transform="translate(1847.5,1589) scale(0.946,1)" font-family="Liberation Sans, Arial, sans-serif" font-weight="bold" font-size="66" text-anchor="middle">500</text>
<text x="490.6" y="1733" font-family="Liberation Sans, Arial, sans-serif" font-weight="bold" font-size="104.6">Wavenumber</text>
<text x="1169" y="1733" font-family="Liberation Sans, Arial, sans-serif" font-weight="bold" font-size="103">(cm</text>
<text x="1354" y="1701" font-family="Liberation Sans, Arial, sans-serif" font-weight="bold" font-size="103">-</text>
<defs><clipPath id="c1"><rect x="1366.5" y="1600" width="80" height="89.2"/><rect x="1410.5" y="1600" width="14.2" height="110"/></clipPath></defs>
<text x="1386.5" y="1701" clip-path="url(#c1)" font-family="Liberation Sans, Arial, sans-serif" font-weight="bold" font-size="103">1</text>
<text x="1446" y="1733" font-family="Liberation Sans, Arial, sans-serif" font-weight="bold" font-size="103">)</text>
<rect x="761.3" y="1272.7" width="1096.4" height="179.8" fill="#fff" stroke="#000" stroke-width="2.2"/>
<line x1="767.5" y1="1320.5" x2="927.5" y2="1320.5" stroke="#505050" stroke-width="6.5"/>
<line x1="767.5" y1="1405.4" x2="927.5" y2="1405.4" stroke="#ef4041" stroke-width="6.5"/>
<text transform="translate(942.4,1342.2) scale(1,1.04)" font-family="Liberation Sans, Arial, sans-serif" font-size="68.7">Reference for PE (HS15, doll)</text>
<text transform="translate(940.2,1426.6) scale(1,1.04)" font-family="Liberation Sans, Arial, sans-serif" font-size="68.7">I</text>
<defs><clipPath id="c2"><rect x="951" y="1360" width="60" height="60.799999999999955"/><rect x="978.2" y="1360" width="6.2" height="80"/></clipPath></defs>
<g clip-path="url(#c2)"><text transform="translate(961,1426.6) scale(1,1.04)" font-family="Liberation Sans, Arial, sans-serif" font-size="68.7">1</text></g>
<text transform="translate(1018.5,1426.6) scale(1,1.04)" font-family="Liberation Sans, Arial, sans-serif" font-size="68.7">back of torso</text>
</svg></body></html>
